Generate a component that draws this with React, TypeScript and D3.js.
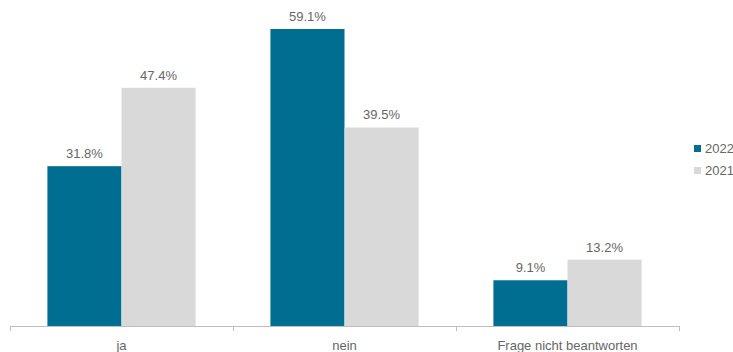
import React from "react";
import * as d3 from "d3";

const categories = ["ja", "nein", "Frage nicht beantworten"];
const series = ["2022", "2021"];
const values2022 = [31.8, 59.1, 9.1];
const values2021 = [47.4, 39.5, 13.2];
const colors = ["#006E91", "#D9D9D9"];

export default function App() {
  const W = 733, H = 352;
  const x = d3.scaleBand<string>().domain(categories).range([10, 679]).paddingInner(0).paddingOuter(0);
  const inner = d3.scaleBand<string>().domain(series).range([0, x.bandwidth()]).paddingInner(0).paddingOuter(0.505);
  const y = d3.scaleLinear().domain([0, 59.1]).range([326, 29]);
  const data = [values2022, values2021];
  const font = "'Liberation Sans', Arial, sans-serif";
  const ticks = [...categories.map((c) => x(c)!), x.range()[1]];
  const txt = "#666666";
  return (
    <svg width={W} height={H} style={{ position: "absolute", left: 0, top: 0 }} fontFamily={font}>
      {categories.map((c, ci) =>
        series.map((s, si) => {
          const v = data[si][ci];
          const bx = x(c)! + inner(s)!;
          return (
            <g key={c + s}>
              <rect x={bx} y={y(v)} width={inner.bandwidth()} height={y(0) - y(v)} fill={colors[si]} />
              <text x={bx + inner.bandwidth() / 2} y={y(v) - 8} textAnchor="middle" fontSize={13} fill={txt}>
                {v.toFixed(1)}%
              </text>
            </g>
          );
        })
      )}
      <line x1={x.range()[0]} x2={x.range()[1]} y1={326.5} y2={326.5} stroke="#BFBFBF" />
      {ticks.map((t, i) => (
        <line key={i} x1={t + 0.5} x2={t + 0.5} y1={326} y2={331} stroke="#BFBFBF" />
      ))}
      {categories.map((c) => (
        <text key={c} x={x(c)! + x.bandwidth() / 2} y={350} textAnchor="middle" fontSize={13} fill={txt}>
          {c}
        </text>
      ))}
      {series.map((s, si) => (
        <g key={s} transform={`translate(694, ${145 + si * 22})`}>
          <rect x={0} y={0} width={7} height={7} fill={colors[si]} />
          <text x={11} y={8} fontSize={13} fill={txt}>{s}</text>
        </g>
      ))}
    </svg>
  );
}
